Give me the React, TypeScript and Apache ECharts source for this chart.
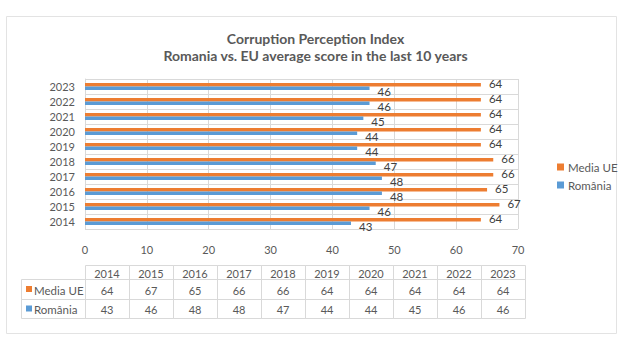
import React, { useEffect, useRef } from "react";
import * as echarts from "echarts";

const years = ["2014", "2015", "2016", "2017", "2018", "2019", "2020", "2021", "2022", "2023"];
const mediaUE = [64, 67, 65, 66, 66, 64, 64, 64, 64, 64];
const romania = [43, 46, 48, 48, 47, 44, 44, 45, 46, 46];
const seriesNames = ["Media UE", "România"];
const colors = ["#ED7D31", "#5B9BD5"];
const titleLines = ["Corruption Perception Index", "Romania vs. EU average score in the last 10 years"];

const FONT = "Lato, 'Liberation Sans', sans-serif";
const TXT = "#595959";
const GRID = "#d9d9d9";

function buildTable() {
  const els: any[] = [];
  const x0 = 85;
  const colW = 44;
  const labelX = 21;
  const rowsY = [265, 279, 299, 318];
  const lineStyle = { stroke: GRID, lineWidth: 1 };
  years.forEach((y, i) => {
    els.push({
      type: "rect",
      shape: { x: x0 + i * colW + 0.5, y: rowsY[0] + 0.5, width: colW, height: rowsY[1] - rowsY[0] },
      style: { fill: "none", ...lineStyle },
    });
    els.push({
      type: "text",
      x: x0 + i * colW + colW / 2,
      y: (rowsY[0] + rowsY[1]) / 2 + 1,
      style: { text: y, fill: TXT, font: `11px ${FONT}`, align: "center", verticalAlign: "middle" },
    });
  });
  const rows = [mediaUE, romania];
  rows.forEach((vals, r) => {
    const top = rowsY[r + 1];
    const bottom = rowsY[r + 2];
    els.push({
      type: "rect",
      shape: { x: labelX + 0.5, y: top + 0.5, width: x0 - labelX, height: bottom - top },
      style: { fill: "none", ...lineStyle },
    });
    els.push({
      type: "rect",
      shape: { x: labelX + 5, y: (top + bottom) / 2 - 3, width: 6, height: 6 },
      style: { fill: colors[r] },
    });
    els.push({
      type: "text",
      x: labelX + 13,
      y: (top + bottom) / 2 + 1,
      style: { text: seriesNames[r], fill: TXT, font: `11.5px ${FONT}`, align: "left", verticalAlign: "middle" },
    });
    vals.forEach((v, i) => {
      els.push({
        type: "rect",
        shape: { x: x0 + i * colW + 0.5, y: top + 0.5, width: colW, height: bottom - top },
        style: { fill: "none", ...lineStyle },
      });
      els.push({
        type: "text",
        x: x0 + i * colW + colW / 2,
        y: (top + bottom) / 2 + 1,
        style: { text: String(v), fill: TXT, font: `11px ${FONT}`, align: "center", verticalAlign: "middle" },
      });
    });
  });
  return els;
}

export default function App() {
  const ref = useRef<HTMLDivElement>(null);
  useEffect(() => {
    if (!ref.current) return;
    const chart = echarts.init(ref.current, null, { renderer: "svg" });
    chart.setOption({
      animation: false,
      backgroundColor: "#ffffff",
      textStyle: { fontFamily: FONT },
      title: {
        text: titleLines.join("\n"),
        left: "center",
        top: 25,
        textStyle: { fontSize: 14, fontWeight: "bold", color: TXT, lineHeight: 17, fontFamily: FONT },
      },
      legend: {
        orient: "vertical",
        left: 552,
        top: 156,
        itemWidth: 7,
        itemHeight: 7,
        itemGap: 6,
        icon: "rect",
        data: seriesNames,
        textStyle: { fontSize: 11.5, color: TXT, fontFamily: FONT, padding: [0, 0, 0, -1] },
      },
      grid: { left: 85, right: 113, top: 79, bottom: 121, containLabel: false },
      xAxis: {
        type: "value",
        min: 0,
        max: 70,
        interval: 10,
        axisLine: { show: false },
        axisTick: { show: false },
        axisLabel: { fontSize: 11, color: TXT, margin: 15, fontFamily: FONT },
        splitLine: { lineStyle: { color: GRID, width: 1 } },
      },
      yAxis: {
        type: "category",
        data: years,
        axisLine: { show: true, lineStyle: { color: GRID } },
        axisTick: { show: false },
        axisLabel: { fontSize: 11, color: TXT, margin: 10, fontFamily: FONT },
        splitLine: { show: true, lineStyle: { color: GRID, width: 1 } },
      },
      series: [
        {
          name: seriesNames[0],
          type: "bar",
          data: mediaUE,
          barWidth: 3.5,
          barGap: "0%",
          itemStyle: { color: colors[0] },
          label: { show: true, position: "right", distance: 8, fontSize: 11.5, color: "#404040", offset: [0, -1], fontFamily: FONT },
        },
        {
          name: seriesNames[1],
          type: "bar",
          data: romania,
          barWidth: 3.5,
          barGap: "0%",
          itemStyle: { color: colors[1] },
          label: { show: true, position: "right", distance: 8, fontSize: 11.5, color: "#404040", offset: [0, 3], fontFamily: FONT },
        },
      ],
      graphic: [
        {
          type: "rect",
          shape: { x: 6.5, y: 16.5, width: 610, height: 317 },
          style: { fill: "none", stroke: "#e3e3e3", lineWidth: 1 },
          z: -1,
        },
        ...buildTable(),
      ],
    });
    return () => chart.dispose();
  }, []);
  return (
    <div
      ref={ref}
      style={{ position: "fixed", left: 0, top: 0, width: 631, height: 350 }}
    />
  );
}
